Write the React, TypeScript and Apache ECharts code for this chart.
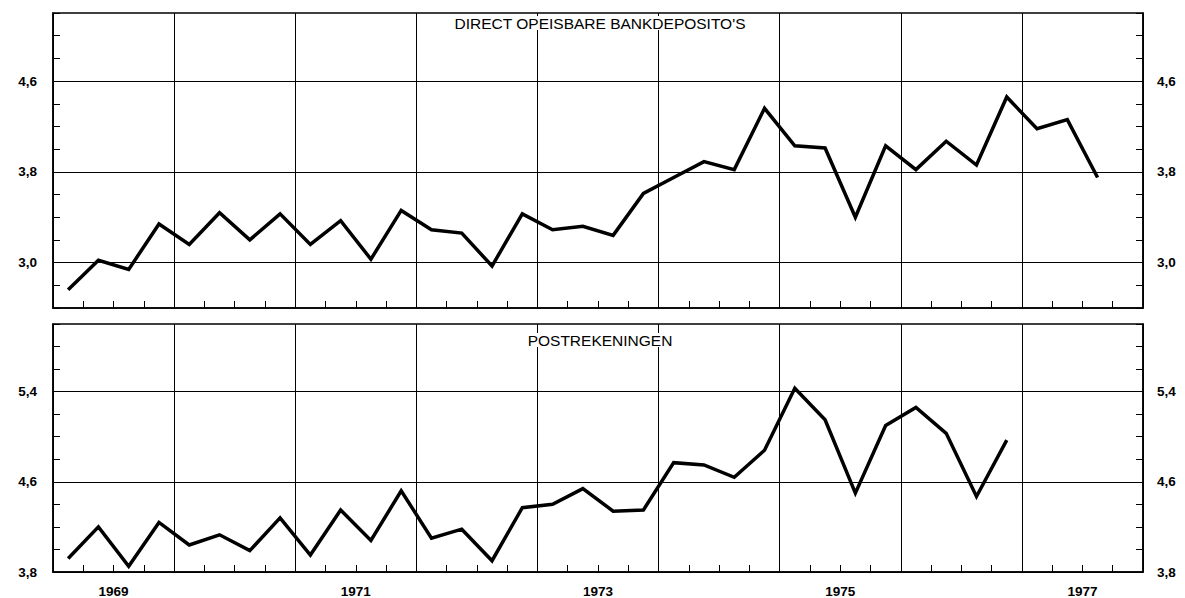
import React, { useEffect, useRef } from "react";
import * as echarts from "echarts";

const years = ["1969", "1970", "1971", "1972", "1973", "1974", "1975", "1976", "1977"];
const quarterNames = ["I", "II", "III", "IV"];
const quarters = years.flatMap((y) => quarterNames.map((q) => `${y} ${q}`));

const bankDeposits = [
  2.76, 3.02, 2.94, 3.34, 3.16, 3.44, 3.2, 3.43, 3.16, 3.37, 3.03, 3.46, 3.29, 3.26, 2.97, 3.43,
  3.29, 3.32, 3.24, 3.61, 3.75, 3.89, 3.82, 4.36, 4.03, 4.01, 3.4, 4.03, 3.82, 4.07, 3.86, 4.46,
  4.18, 4.26, 3.75,
];
const postAccounts = [
  3.92, 4.2, 3.85, 4.24, 4.04, 4.13, 3.99, 4.28, 3.95, 4.35, 4.08, 4.52, 4.1, 4.18, 3.9, 4.37,
  4.4, 4.54, 4.34, 4.35, 4.77, 4.75, 4.64, 4.88, 5.43, 5.15, 4.5, 5.1, 5.26, 5.03, 4.47, 4.97,
];

const topTitle = "DIRECT OPEISBARE BANKDEPOSITO'S";
const bottomTitle = "POSTREKENINGEN";
const topTickLabels = [3.0, 3.8, 4.6];
const bottomTickLabels = [3.8, 4.6, 5.4];
const topRange = [2.6, 5.2];
const bottomRange = [3.8, 6.0];

const FONT = "'Liberation Sans', Arial, Helvetica, sans-serif";

const fmt = (labels: number[]) => (v: number) =>
  labels.some((l) => Math.abs(l - v) < 1e-6) ? v.toFixed(1).replace(".", ",") : "";

export default function App() {
  const ref = useRef<HTMLDivElement>(null);

  useEffect(() => {
    if (!ref.current) return;
    const chart = echarts.init(ref.current, undefined, { renderer: "svg" });

    const grids = [
      { left: 53, right: 42, top: 13, height: 295 },
      { left: 53, right: 42, top: 324, height: 251 },
    ].map((g) => ({
      ...g,
      show: true,
      borderColor: "#000",
      borderWidth: 1.5,
      backgroundColor: "transparent",
    }));

    const quarterAxis = (gridIndex: number) => ({
      type: "category",
      gridIndex,
      data: quarters,
      boundaryGap: true,
      position: "bottom",
      axisLine: { show: true, lineStyle: { color: "#000", width: 1.5 } },
      axisTick: { show: true, inside: true, length: 7, interval: 0, lineStyle: { color: "#000", width: 1 } },
      axisLabel: { show: false },
      splitLine: { show: false },
    });

    const yearAxis = (gridIndex: number, showLabels: boolean) => ({
      type: "category",
      gridIndex,
      data: years,
      boundaryGap: true,
      position: "bottom",
      axisLine: { show: false },
      axisTick: { show: false },
      splitLine: { show: true, interval: 0, lineStyle: { color: "#000", width: 1 } },
      axisLabel: {
        show: showLabels,
        interval: (index: number) => index % 2 === 0,
        margin: 12,
        color: "#000",
        fontSize: 13.5,
        fontWeight: "bold",
        fontFamily: FONT,
      },
    });

    const valueAxis = (gridIndex: number, position: string, range: number[], labels: number[]) => ({
      type: "value",
      gridIndex,
      position,
      min: range[0],
      max: range[1],
      interval: 0.2,
      axisLine: { show: true, lineStyle: { color: "#000", width: 1.5 } },
      axisTick: { show: true, inside: true, length: 7, lineStyle: { color: "#000", width: 1 } },
      splitLine: { show: false },
      axisLabel: {
        show: true,
        formatter: fmt(labels),
        margin: position === "left" ? 16 : 14,
        color: "#000",
        fontSize: 13.5,
        fontWeight: "bold",
        fontFamily: FONT,
        showMinLabel: true,
        showMaxLabel: true,
      },
    });

    const lineSeries = (idx: number, data: number[], gridLines: number[]) => ({
      type: "line",
      xAxisIndex: idx * 2,
      yAxisIndex: idx * 2,
      data,
      symbol: "none",
      lineStyle: { color: "#000", width: 3.5, join: "miter" },
      z: 5,
      markLine: {
        silent: true,
        symbol: ["none", "none"],
        label: { show: false },
        lineStyle: { color: "#000", width: 1.2, type: "solid" },
        data: gridLines.map((v) => ({ yAxis: v })),
        z: 1,
      },
    });

    const titleText = (text: string, y: number) => ({
      type: "text",
      x: 600,
      y,
      z: 10,
      style: {
        text,
        fill: "#000",
        font: `15.5px ${FONT}`,
        lineHeight: 14,
        align: "center",
        verticalAlign: "middle",
        backgroundColor: "#fff",
        padding: [0, 6],
      },
    });

    chart.setOption({
      animation: false,
      backgroundColor: "#fff",
      grid: grids,
      xAxis: [quarterAxis(0), yearAxis(0, false), quarterAxis(1), yearAxis(1, true)],
      yAxis: [
        valueAxis(0, "left", topRange, topTickLabels),
        valueAxis(0, "right", topRange, topTickLabels),
        valueAxis(1, "left", bottomRange, bottomTickLabels),
        valueAxis(1, "right", bottomRange, bottomTickLabels),
      ],
      series: [lineSeries(0, bankDeposits, topTickLabels), lineSeries(1, postAccounts, bottomTickLabels)],
      graphic: [titleText(topTitle, 23), titleText(bottomTitle, 340)],
    });

    return () => chart.dispose();
  }, []);

  return (
    <div
      ref={ref}
      style={{ position: "fixed", left: 0, top: 0, width: 1185, height: 598, background: "#fff" }}
    />
  );
}
